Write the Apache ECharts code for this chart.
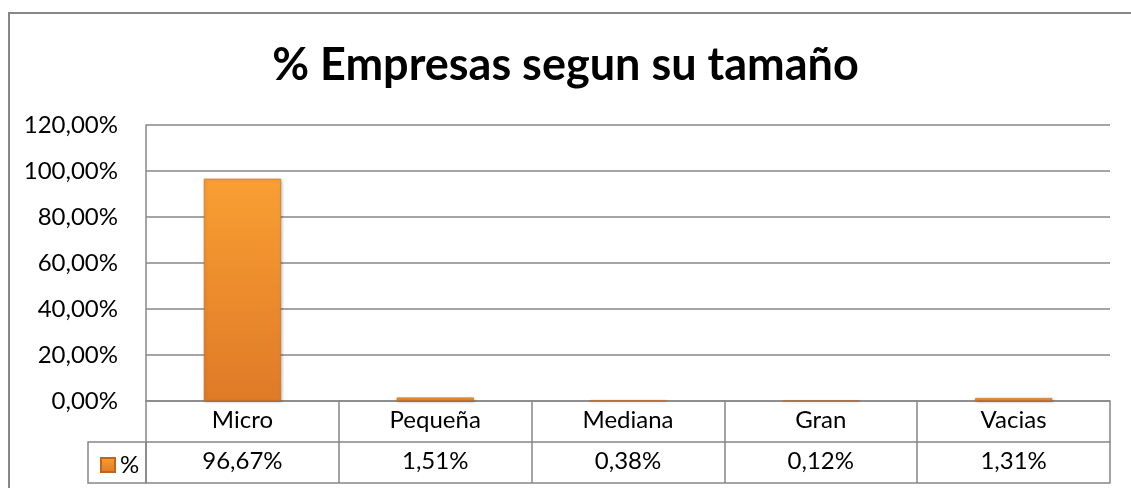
<!DOCTYPE html>
<html>
<head>
<meta charset="utf-8">
<script src="https://cdn.jsdelivr.net/npm/echarts@6/dist/echarts.min.js"></script>
<style>
  html, body { margin: 0; padding: 0; background: #fff; }
  #chart { width: 1131px; height: 488px; }
</style>
</head>
<body>
<div id="chart"></div>
<script>
// datos del grafico
const categories = ["Micro", "Pequeña", "Mediana", "Gran", "Vacias"];
const values = [96.67, 1.51, 0.38, 0.12, 1.31];
const yTicks = [0, 20, 40, 60, 80, 100, 120];
const seriesName = "%";

const fmt = (v) => v.toFixed(2).replace(".", ",") + "%";
const valueLabels = values.map(fmt);

const FONT = "Lato";
const GRAY = "#878787";

const chart = echarts.init(document.getElementById("chart"));

chart.setOption({
  animation: false,
  textStyle: { fontFamily: FONT },
  title: {
    text: "% Empresas segun su tamaño",
    left: "center",
    top: 38,
    textStyle: { fontSize: 45, fontWeight: "bold", color: "#000", fontFamily: FONT }
  },
  legend: {
    left: 95,
    top: 448,
    itemWidth: 14,
    itemHeight: 14,
    itemGap: 3,
    icon: "rect",
    textStyle: { fontSize: 24, color: "#000", padding: [0, 0, 0, 0] },
    data: [seriesName]
  },
  grid: { left: 146, right: 21, top: 125, bottom: 87 },
  yAxis: {
    type: "value",
    min: yTicks[0],
    max: yTicks[yTicks.length - 1],
    interval: 20,
    axisLine: { show: true, lineStyle: { color: GRAY, width: 1.5 } },
    axisTick: { show: false },
    splitLine: { lineStyle: { color: GRAY, width: 1.5 } },
    axisLabel: { formatter: fmt, fontSize: 24, color: "#000", margin: 28 }
  },
  xAxis: [
    {
      type: "category",
      data: categories,
      axisLine: { lineStyle: { color: GRAY, width: 1.5 } },
      axisTick: { show: true, length: 82, lineStyle: { color: GRAY, width: 1.5 } },
      axisLabel: { fontSize: 24, color: "#000", margin: 7, verticalAlign: "top" }
    },
    {
      type: "category",
      position: "bottom",
      offset: 41,
      data: valueLabels,
      axisLine: { lineStyle: { color: GRAY, width: 1.5 } },
      axisTick: { show: false },
      axisLabel: { fontSize: 24, color: "#000", margin: 7, verticalAlign: "top" }
    },
    {
      type: "category",
      position: "bottom",
      offset: 82,
      data: categories,
      axisLine: { lineStyle: { color: GRAY, width: 1.5 } },
      axisTick: { show: false },
      axisLabel: { show: false }
    }
  ],
  series: [
    {
      name: seriesName,
      type: "bar",
      xAxisIndex: 0,
      data: values,
      barWidth: "40%",
      itemStyle: {
        color: new echarts.graphic.LinearGradient(0, 0, 0, 1, [
          { offset: 0, color: "#F99F33" },
          { offset: 1, color: "#DF7A27" }
        ]),
        borderColor: "#C0661C",
        borderWidth: 0.5,
        shadowColor: "rgba(0,0,0,0.25)",
        shadowBlur: 3,
        shadowOffsetX: 1,
        shadowOffsetY: 1
      }
    }
  ],
  graphic: [
    {
      type: "rect",
      shape: { x: 9, y: 13, width: 1200, height: 600 },
      style: { fill: null, stroke: GRAY, lineWidth: 2 },
      silent: true,
      z: -1
    },
    {
      type: "rect",
      shape: { x: 88, y: 442, width: 58, height: 41 },
      style: { fill: null, stroke: GRAY, lineWidth: 1.5 },
      silent: true
    }
  ]
});
</script>
</body>
</html>
